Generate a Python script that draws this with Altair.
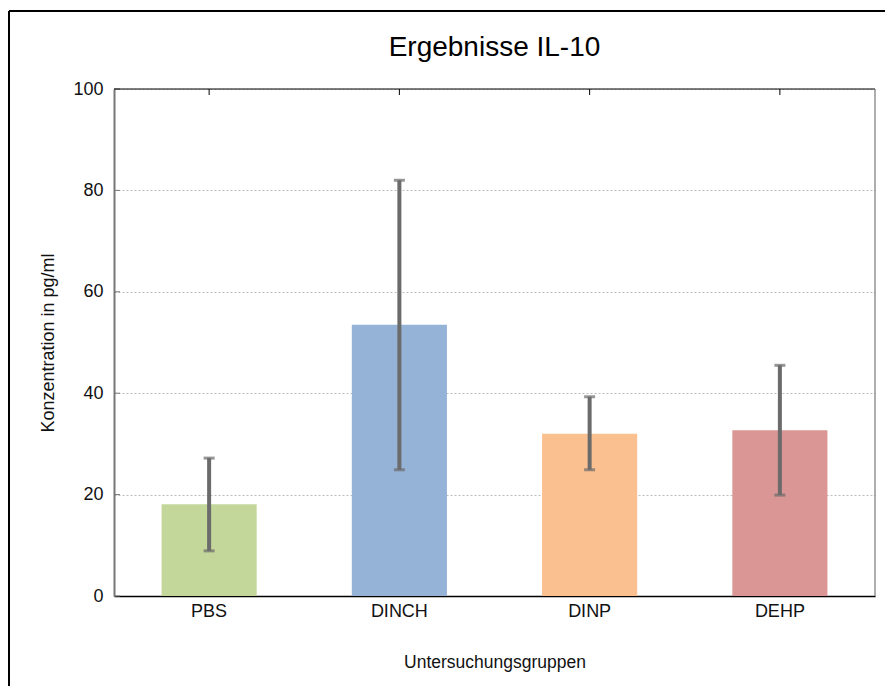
import altair as alt
import pandas as pd

categories = ["PBS", "DINCH", "DINP", "DEHP"]
means = [18.1, 53.5, 32.0, 32.7]
lower = [8.9, 24.9, 24.9, 19.9]
upper = [27.2, 82.0, 39.3, 45.5]
colors = ["#c4d79b", "#95b3d7", "#fac090", "#d99694"]
y_ticks = [0, 20, 40, 60, 80, 100]
chart_title = "Ergebnisse IL-10"

W, H = 761, 507
FONT = "Liberation Sans"
YTITLE = "Konzentration in pg/ml"
ERR = "#6b6b6b"

df = pd.DataFrame({"group": categories, "mean": means, "lower": lower, "upper": upper})
tick_df = pd.DataFrame({"v": y_ticks})
one = pd.DataFrame({"a": [0]})

yscale = alt.Scale(domain=[0, 100], nice=False)
xscale = alt.Scale(domain=categories, paddingInner=0.5, paddingOuter=0.25)

x_enc = alt.X("group:N", sort=categories, scale=xscale,
              axis=alt.Axis(title="Untersuchungsgruppen", labelAngle=0, ticks=False, tickSize=0,
                            domainColor="black", domainWidth=1.5, labelFontSize=18,
                            titleFontSize=17.5, titleFontWeight="normal", labelPadding=6,
                            titlePadding=33, labelColor="#111111", titleColor="#111111"))

base = alt.Chart(df)

bars = base.mark_bar().encode(
    x=x_enc,
    y=alt.Y("mean:Q", scale=yscale, title=YTITLE,
            axis=alt.Axis(values=y_ticks, grid=True, gridDash=[2, 2], gridColor="#bdbdbd",
                          ticks=False, tickSize=0, domainColor="#777777", domainWidth=2,
                          labelFontSize=18, titleFontSize=18, titleFontWeight="normal",
                          labelPadding=11, titlePadding=15, labelColor="#111111", titleColor="#111111")),
    color=alt.Color("group:N", scale=alt.Scale(domain=categories, range=colors), legend=None),
)

err = base.mark_rule(color=ERR, strokeWidth=4).encode(
    x=alt.X("group:N", sort=categories, scale=xscale),
    y=alt.Y("lower:Q", scale=yscale, title=YTITLE),
    y2="upper:Q",
)
cap_hi = base.mark_tick(color=ERR, thickness=3, size=11).encode(
    x=alt.X("group:N", sort=categories, scale=xscale),
    y=alt.Y("upper:Q", scale=yscale, title=YTITLE),
)
cap_lo = base.mark_tick(color=ERR, thickness=3, size=11).encode(
    x=alt.X("group:N", sort=categories, scale=xscale),
    y=alt.Y("lower:Q", scale=yscale, title=YTITLE),
)

top_ticks = base.mark_rule(color="black", strokeWidth=1).encode(
    x=alt.X("group:N", sort=categories, scale=xscale),
    y=alt.value(0), y2=alt.value(6),
)
y_tickmarks = alt.Chart(tick_df).mark_rule(color="#777777", strokeWidth=1).encode(
    x=alt.value(0), x2=alt.value(6),
    y=alt.Y("v:Q", scale=yscale, title=YTITLE),
)

top_border = alt.Chart(one).mark_rule(color="black", strokeWidth=1.2).encode(
    x=alt.value(0), x2=alt.value(W), y=alt.value(0))
right_border = alt.Chart(one).mark_rule(color="#777777", strokeWidth=1.2).encode(
    x=alt.value(W), y=alt.value(0), y2=alt.value(H))
frame_top = alt.Chart(one).mark_rule(color="black", strokeWidth=2).encode(
    x=alt.value(-105), x2=alt.value(900), y=alt.value(-78))
frame_left = alt.Chart(one).mark_rule(color="black", strokeWidth=2).encode(
    x=alt.value(-105), y=alt.value(-78), y2=alt.value(700))

title_text = alt.Chart(one).mark_text(
    fontSize=28, font=FONT, color="black", align="center", baseline="alphabetic"
).encode(x=alt.value(W / 2), y=alt.value(-33), text=alt.datum(chart_title))

chart = alt.layer(
    bars, err, cap_hi, cap_lo, top_ticks, y_tickmarks, top_border, right_border,
    frame_top, frame_left, title_text
).properties(
    width=W, height=H,
    autosize=alt.AutoSizeParams(type="none"),
    padding={"left": 106, "top": 81, "right": 10, "bottom": 90},
).configure(font=FONT, background="white").configure_view(stroke=None)

chart.save("out.html", embed_options={"renderer": "svg", "actions": False})
